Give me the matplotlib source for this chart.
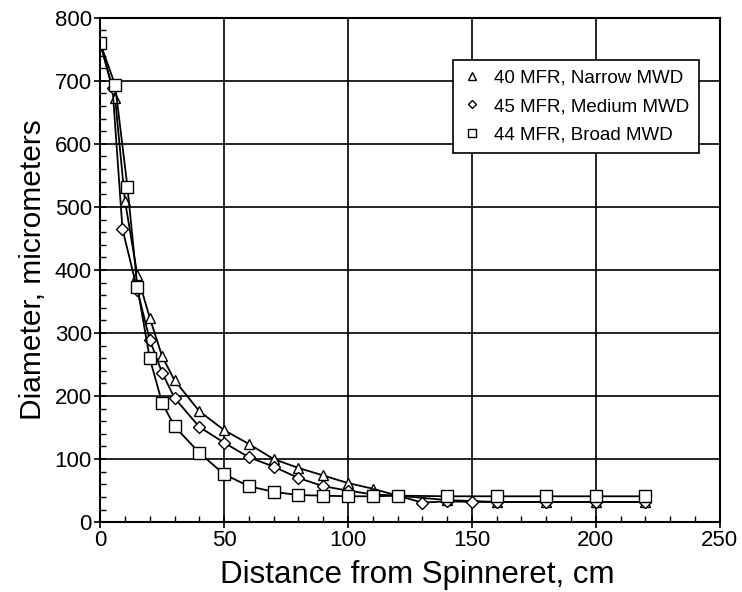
import matplotlib
matplotlib.use("Agg")
import matplotlib.pyplot as plt
from matplotlib.ticker import MultipleLocator

plt.rcParams['font.family'] = ['Liberation Sans', 'DejaVu Sans']

tri_x = [0, 6, 10, 15, 20, 25, 30, 40, 50, 60, 70, 80, 90, 100, 110, 120, 140, 160, 180, 200, 220]
tri_y = [760, 673, 510, 392, 324, 263, 225, 176, 146, 124, 100, 86, 74, 62, 53, 42, 35, 32, 32, 32, 32]

dia_x = [0, 5, 9, 15, 20, 25, 30, 40, 50, 60, 70, 80, 90, 100, 110, 120, 130, 140, 150, 160, 180, 200, 220]
dia_y = [760, 688, 465, 368, 289, 237, 197, 151, 126, 103, 88, 70, 57, 50, 44, 42, 31, 33, 32, 32, 32, 32, 32]

sq_x = [0, 6, 11, 15, 20, 25, 30, 40, 50, 60, 70, 80, 90, 100, 110, 120, 140, 160, 180, 200, 220]
sq_y = [760, 694, 532, 373, 260, 189, 152, 110, 76, 57, 48, 43, 42, 41, 41, 42, 41, 41, 41, 41, 41]

labels = ["40 MFR, Narrow MWD", "45 MFR, Medium MWD", "44 MFR, Broad MWD"]

fig = plt.figure(figsize=(7.42, 5.92), dpi=100)
ax = fig.add_axes([0.135, 0.118, 0.835, 0.852])

ax.plot(tri_x, tri_y, color='black', lw=1.3, marker='^', ms=7.5, mfc='white', mec='black', mew=1.0, label=labels[0])
ax.plot(dia_x, dia_y, color='black', lw=1.3, marker='D', ms=6, mfc='white', mec='black', mew=1.0, label=labels[1])
ax.plot(sq_x, sq_y, color='black', lw=1.3, marker='s', ms=8, mfc='white', mec='black', mew=1.0, label=labels[2])

ax.set_xlim(0, 250)
ax.set_ylim(0, 800)
ax.xaxis.set_major_locator(MultipleLocator(50))
ax.xaxis.set_minor_locator(MultipleLocator(10))
ax.yaxis.set_major_locator(MultipleLocator(100))
ax.yaxis.set_minor_locator(MultipleLocator(20))
ax.grid(True, which='major', color='black', lw=1.2)
ax.set_axisbelow(True)
ax.tick_params(which='major', direction='inout', length=8, width=1.2, labelsize=16, pad=2)
ax.tick_params(which='minor', direction='in', length=4, width=1.0)
for s in ax.spines.values():
    s.set_linewidth(1.5)

ax.set_xlabel("Distance from Spinneret, cm", fontsize=22.5, labelpad=4)
ax.xaxis.set_label_coords(0.512, -0.075)
ax.set_ylabel("Diameter, micrometers", fontsize=21.5)
ax.yaxis.set_label_coords(-0.086, 0.5)

leg = ax.legend(loc='upper right', bbox_to_anchor=(0.966, 0.916), fontsize=13.5, frameon=True,
                fancybox=False, edgecolor='black', framealpha=1, handlelength=1.0,
                handletextpad=0.7, markerscale=0.7, borderpad=0.5, labelspacing=0.6,
                borderaxespad=0)
for h in leg.get_lines():
    h.set_linestyle('')
leg.get_frame().set_linewidth(1.2)

fig.savefig("out.png", dpi=100)
